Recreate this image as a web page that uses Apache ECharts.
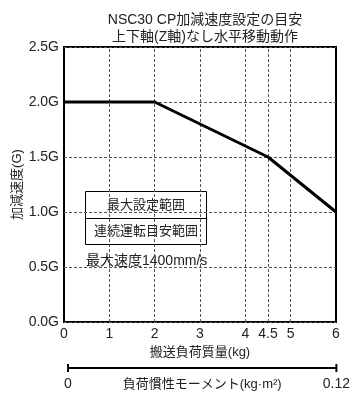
<!DOCTYPE html>
<html>
<head>
<meta charset="utf-8">
<script src="https://cdn.jsdelivr.net/npm/echarts@6/dist/echarts.min.js"></script>
<style>
  html, body { margin: 0; padding: 0; background: #fff; }
  #chart { width: 353px; height: 410px; }
</style>
</head>
<body>
<div id="chart"></div>
<script>
// 搬送負荷質量 (kg) と加減速度 (G)
var massKg = [0, 2, 4.5, 6];
var accelG = [2.0, 2.0, 1.5, 1.0];
var xTicks = [0, 1, 2, 3, 4, 4.5, 5, 6];
var inertiaTicks = [0, 0.12];
var legendRows = ['最大設定範囲', '連続運転目安範囲'];
var speedNote = '最大速度1400mm/s';

var font = '"Liberation Sans", "Noto Sans CJK JP", sans-serif';

var chart = echarts.init(document.getElementById('chart'));
chart.setOption({
  animation: false,
  backgroundColor: '#fff',
  textStyle: { fontFamily: font, color: '#222' },
  title: {
    text: 'NSC30 CP加減速度設定の目安\n上下軸(Z軸)なし水平移動動作',
    left: 200, top: 7, textAlign: 'center',
    textStyle: { fontSize: 14, fontWeight: 'normal', lineHeight: 17, color: '#222', fontFamily: font }
  },
  grid: [
    { left: 64, right: 17, top: 47, bottom: 88, show: true, borderColor: '#000', borderWidth: 2 },
    { left: 68, right: 14, top: 368, height: 0 }
  ],
  xAxis: [{
    type: 'value', gridIndex: 0, min: 0, max: 6,
    name: '搬送負荷質量(kg)', nameLocation: 'middle', nameGap: 24, nameMoveOverlap: false,
    nameTextStyle: { fontSize: 13, color: '#222' },
    axisLine: { show: false }, axisTick: { show: false },
    splitLine: { show: false },
    axisLabel: { customValues: xTicks, fontSize: 14, color: '#222', margin: 5 }
  }, {
    type: 'value', gridIndex: 1, min: 0, max: 0.12, position: 'bottom',
    name: '負荷慣性モーメント(kg·m²)', nameLocation: 'middle', nameGap: 10, nameMoveOverlap: false,
    nameTextStyle: { fontSize: 13, color: '#222' },
    axisLine: { show: true, lineStyle: { color: '#000', width: 2 }, symbol: ['rect', 'rect'], symbolSize: [8, 2] },
    axisTick: { show: false }, splitLine: { show: false },
    axisLabel: { customValues: inertiaTicks, fontSize: 14, color: '#222', margin: 9 }
  }],
  yAxis: [{
    type: 'value', gridIndex: 0, min: 0, max: 2.5, interval: 0.5,
    name: '加減速度(G)', nameLocation: 'middle', nameGap: 40, nameRotate: 90, nameMoveOverlap: false,
    nameTextStyle: { fontSize: 13, color: '#222' },
    axisLine: { show: false }, axisTick: { show: false },
    axisLabel: { fontSize: 14, color: '#222', margin: 5, formatter: function (v) { return v.toFixed(1) + 'G'; } },
    splitLine: { show: true, lineStyle: { color: '#555', type: [3, 2], width: 1 } }
  }, {
    type: 'value', gridIndex: 1, show: false
  }],
  series: [{
    type: 'line', xAxisIndex: 0, yAxisIndex: 0,
    data: massKg.map(function (m, i) { return [m, accelG[i]]; }),
    symbol: 'none',
    lineStyle: { color: '#000', width: 3 },
    z: 5,
    markLine: {
      silent: true, symbol: 'none', label: { show: false },
      lineStyle: { color: '#555', type: [3, 2], width: 1 },
      data: xTicks.filter(function (t) { return t > 0 && t < 6; }).map(function (t) { return { xAxis: t }; })
    }
  }],
  graphic: [{
    type: 'group', left: 83, top: 191,
    children: [
      { type: 'rect', shape: { x: 0, y: 0, width: 121, height: 53 }, style: { fill: '#fff', stroke: '#000', lineWidth: 1 } },
      { type: 'line', shape: { x1: 0, y1: 27, x2: 121, y2: 27 }, style: { stroke: '#000', lineWidth: 1 } },
      { type: 'text', x: 60.5, y: 14, style: { text: legendRows[0], fontSize: 13, fontFamily: font, fill: '#222', align: 'center', verticalAlign: 'middle' } },
      { type: 'text', x: 60.5, y: 40, style: { text: legendRows[1], fontSize: 13, fontFamily: font, fill: '#222', align: 'center', verticalAlign: 'middle' } }
    ]
  }, {
    type: 'text', left: 86, top: 254,
    style: { text: speedNote, fontSize: 14, fontFamily: font, fill: '#222', backgroundColor: '#fff' }
  }]
});
</script>
</body>
</html>
